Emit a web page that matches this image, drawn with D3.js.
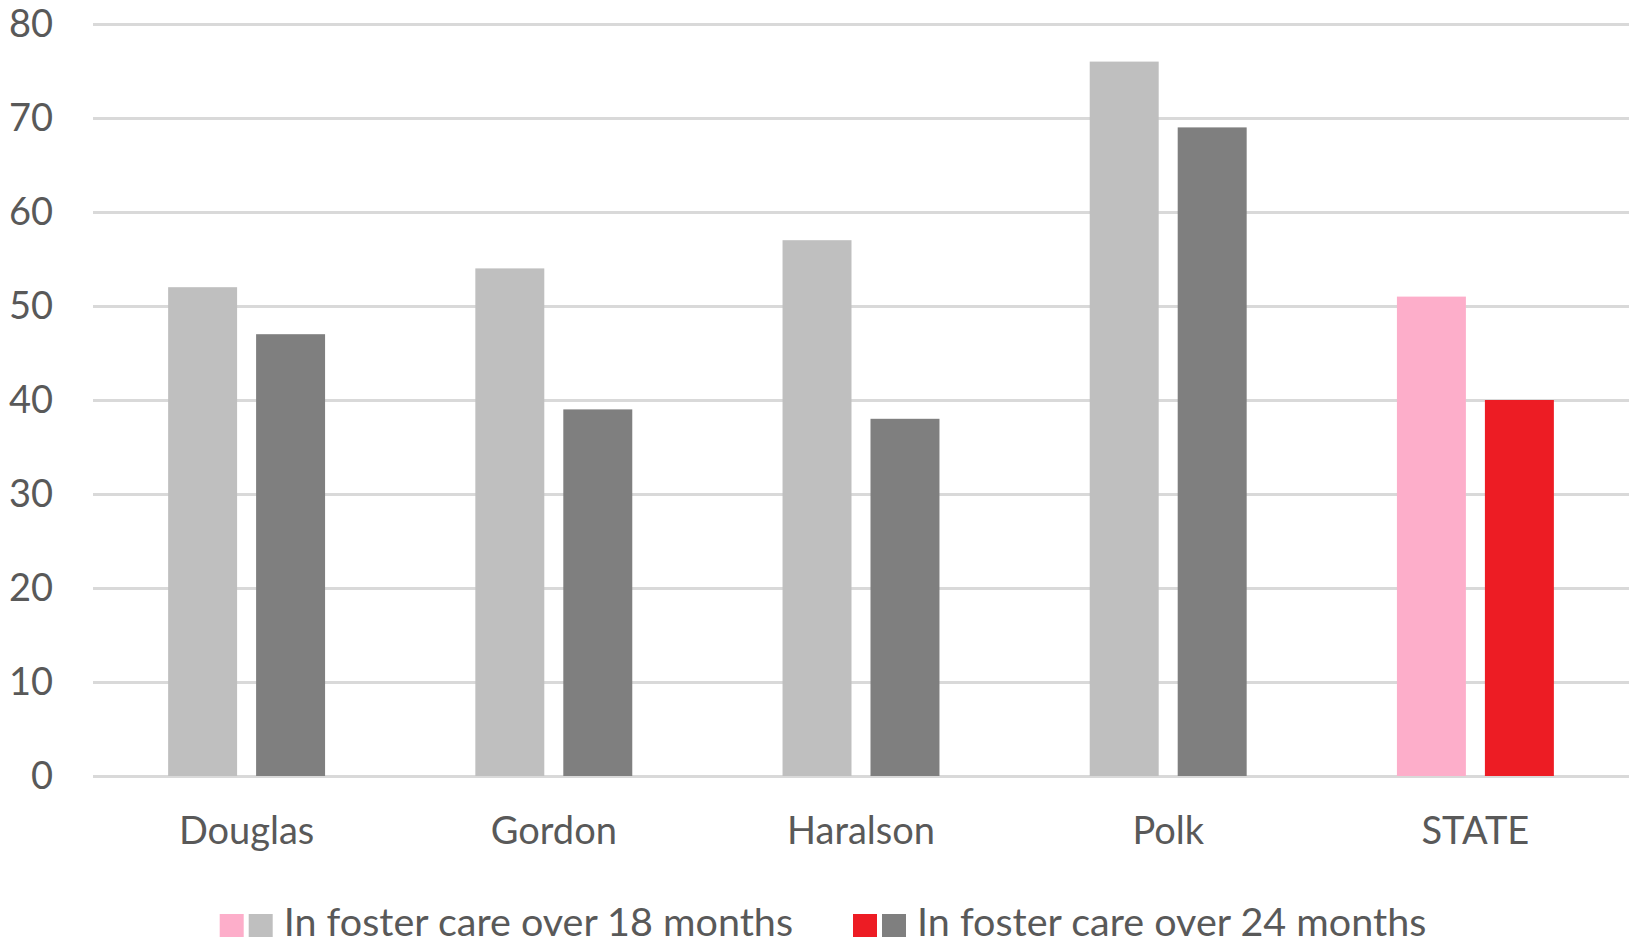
<!DOCTYPE html>
<html>
<head>
<meta charset="utf-8">
<script src="https://cdn.jsdelivr.net/npm/d3@7"></script>
<style>
  html, body { margin: 0; padding: 0; background: #ffffff; }
  svg { display: block; }
  text { font-family: Lato, "Open Sans", sans-serif; fill: #595959; }
</style>
</head>
<body>
<svg id="chart" width="1634" height="943"></svg>
<script>
// ---- data ----
const categories = ["Douglas", "Gordon", "Haralson", "Polk", "STATE"];
const seriesNames = ["In foster care over 18 months", "In foster care over 24 months"];
const over18 = [52, 54, 57, 76, 51];
const over24 = [47, 39, 38, 69, 40];
const yTicks = [0, 10, 20, 30, 40, 50, 60, 70, 80];
const countyColors = ["#BFBFBF", "#7F7F7F"];
const stateColors = ["#FDAECA", "#ED1C24"];

// ---- layout ----
const W = 1634, H = 943;
const plot = { left: 93, right: 1629, top: 24, bottom: 776 };
const fontSize = 38;
const legendFontSize = 39.5;

const svg = d3.select("#chart");

const y = d3.scaleLinear().domain([0, 80]).range([plot.bottom, plot.top]);
const x0 = d3.scaleBand().domain(categories).range([plot.left, plot.right]).padding(0);
const x1 = d3.scaleBand().domain([0, 1]).range([0, x0.bandwidth()])
  .paddingInner(0.216).paddingOuter(0.854);

// gridlines + y labels
const yAxis = svg.append("g")
  .attr("transform", `translate(${plot.left},0)`)
  .call(d3.axisLeft(y).tickValues(yTicks)
    .tickSize(-(plot.right - plot.left)).tickPadding(40).tickFormat(d3.format("d")));
yAxis.select(".domain").remove();
yAxis.selectAll(".tick line").attr("stroke", "#D9D9D9").attr("stroke-width", 3);
yAxis.selectAll(".tick text").attr("font-size", fontSize).attr("fill", "#595959")
  .style("font-family", "Lato, 'Open Sans', sans-serif");

// bars
const rows = categories.map((c, i) => ({ cat: c, vals: [over18[i], over24[i]] }));
const groups = svg.append("g").selectAll("g").data(rows).join("g")
  .attr("transform", d => `translate(${x0(d.cat)},0)`);
groups.selectAll("rect").data(d => d.vals.map((v, k) => ({ v, k, state: d.cat === "STATE" })))
  .join("rect")
  .attr("x", d => x1(d.k))
  .attr("width", x1.bandwidth())
  .attr("y", d => y(d.v))
  .attr("height", d => y(0) - y(d.v))
  .attr("fill", d => (d.state ? stateColors : countyColors)[d.k]);

// x labels
const xAxis = svg.append("g")
  .attr("transform", `translate(0,${plot.bottom})`)
  .call(d3.axisBottom(x0).tickSize(0));
xAxis.select(".domain").remove();
xAxis.selectAll(".tick text").attr("font-size", fontSize).attr("fill", "#595959")
  .attr("y", 68).attr("dy", 0)
  .style("font-family", "Lato, 'Open Sans', sans-serif");

// legend
const legend = svg.append("g");
const sq = 24, sqGap = 5, txtGap = 11, itemGap = 60;
const items = seriesNames.map((name, k) => ({ name, k }));
const legendY = 914;
const itemG = legend.selectAll("g").data(items).join("g");
itemG.append("rect").attr("x", 0).attr("y", legendY).attr("width", sq).attr("height", sq - 1)
  .attr("fill", d => stateColors[d.k]);
itemG.append("rect").attr("x", sq + sqGap).attr("y", legendY).attr("width", sq).attr("height", sq - 1)
  .attr("fill", d => countyColors[d.k]);
itemG.append("text").attr("x", 2 * sq + sqGap + txtGap).attr("y", legendY + 22)
  .attr("font-size", legendFontSize).text(d => d.name);
let widths = [];
itemG.each(function () { widths.push(this.getBBox().width); });
const total = d3.sum(widths) + itemGap * (widths.length - 1);
let cx = 823 - total / 2;
itemG.each(function (d, i) {
  d3.select(this).attr("transform", `translate(${cx},0)`);
  cx += widths[i] + itemGap;
});
</script>
</body>
</html>
